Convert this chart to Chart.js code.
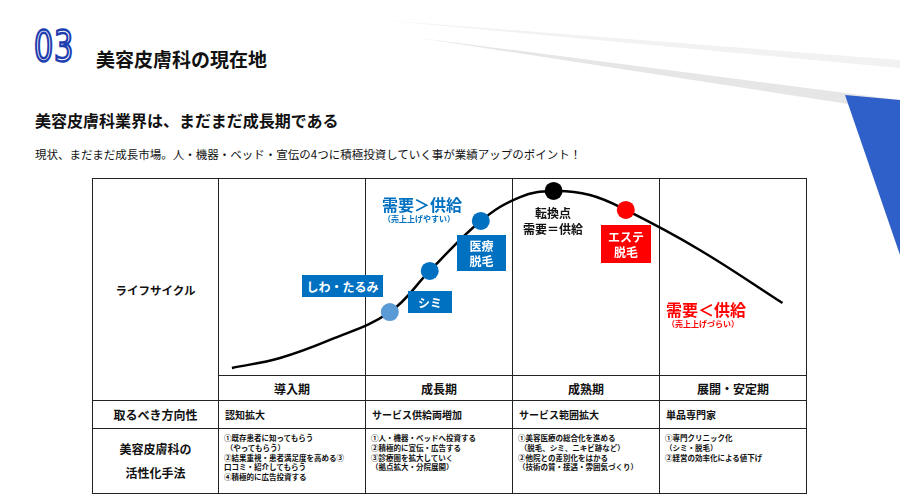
<!DOCTYPE html>
<html><head><meta charset="utf-8">
<script src="https://cdn.jsdelivr.net/npm/chart.js@4"></script>
<style>
body{margin:0;width:900px;height:504px;position:relative;overflow:hidden;background:#fff;font-family:"Noto Sans CJK JP",sans-serif;}
.a{position:absolute;white-space:nowrap;}
table{position:absolute;left:92px;top:178px;border-collapse:collapse;font-weight:bold;}
td{border:1.5px solid #222;padding:0;font-size:10px;color:#111;vertical-align:middle;}
td.h{text-align:center;font-size:12px;}
.box{position:absolute;color:#fff;font-weight:bold;text-align:center;display:flex;align-items:center;justify-content:center;line-height:1.25;}
.sm{font-size:7.5px;line-height:1.3;vertical-align:top;padding:4px 0 0 5px;}
</style></head><body>
<svg class="a" style="left:0;top:0" width="900" height="504">
<polygon points="420,38 900,100 900,112" fill="#e6e6e6"/>
<polygon points="380,20 900,60 900,68" fill="#f2f2f2"/>
<polygon points="845,95 900,100 900,255" fill="#2f5fc8"/>
</svg>
<div class="a" style="left:34px;top:22px;font-size:42px;color:#fff;-webkit-text-stroke:2.5px #1f3fb0;font-family:'Liberation Sans Narrow','DejaVu Sans Condensed',sans-serif;transform:scaleX(0.8);transform-origin:left;letter-spacing:1px">03</div>
<div class="a" style="left:96px;top:45px;font-size:19px;font-weight:bold;color:#111">美容皮膚科の現在地</div>
<div class="a" style="left:35px;top:108px;font-size:16px;font-weight:bold;color:#111">美容皮膚科業界は、まだまだ成長期である</div>
<div class="a" style="left:35px;top:146px;font-size:11.5px;color:#111">現状、まだまだ成長市場。人・機器・ベッド・宣伝の4つに積極投資していく事が業績アップのポイント！</div>
<table>
<tr style="height:197px"><td rowspan="2" class="h" style="width:125px;font-size:11.5px">ライフサイクル</td><td style="width:146px"></td><td style="width:146px"></td><td style="width:146px"></td><td style="width:146px"></td></tr>
<tr style="height:25px"><td class="h">導入期</td><td class="h">成長期</td><td class="h">成熟期</td><td class="h">展開・安定期</td></tr>
<tr style="height:28px"><td class="h">取るべき方向性</td><td style="padding-left:6px">認知拡大</td><td style="padding-left:6px">サービス供給両増加</td><td style="padding-left:6px">サービス範囲拡大</td><td style="padding-left:6px">単品専門家</td></tr>
<tr style="height:65px"><td class="h" style="line-height:2">美容皮膚科の<br>活性化手法</td>
<td class="sm">①既存患者に知ってもらう<br>&nbsp;（やってもらう）<br>②結果重視・患者満足度を高める③<br>口コミ・紹介してもらう<br>④積極的に広告投資する</td>
<td class="sm">①人・機器・ベッドへ投資する<br>②積極的に宣伝・広告する<br>③診療圏を拡大していく<br>（拠点拡大・分院展開）</td>
<td class="sm">①美容医療の総合化を進める<br>&nbsp;（脱毛、シミ、ニキビ跡など）<br>②他院との差別化をはかる<br>（技術の質・接遇・雰囲気づくり）</td>
<td class="sm">①専門クリニック化<br>（シミ・脱毛）<br>②経営の効率化による値下げ</td></tr>
</table>
<div class="a" style="left:219px;top:179px;width:587px;height:196px"><canvas id="c"></canvas></div>
<div class="a" style="left:382px;top:192px;font-size:16px;font-weight:bold;color:#0070c0">需要＞供給</div>
<div class="a" style="left:383px;top:213px;font-size:8px;font-weight:bold;color:#0070c0">（売上上げやすい）</div>
<div class="box" style="left:302px;top:275px;width:81px;height:22px;background:#0070c0;font-size:12px">しわ・たるみ</div>
<div class="box" style="left:408px;top:291px;width:44px;height:22px;background:#0070c0;font-size:12px">シミ</div>
<div class="box" style="left:457px;top:235px;width:49px;height:36px;background:#0070c0;font-size:12px">医療<br>脱毛</div>
<div class="a" style="left:513px;top:205px;width:80px;text-align:center;font-size:12px;font-weight:bold;color:#111;line-height:1.3">転換点<br>需要＝供給</div>
<div class="box" style="left:601px;top:225px;width:50px;height:38px;background:#f00;font-size:12px">エステ<br>脱毛</div>
<div class="a" style="left:666px;top:297px;font-size:16px;font-weight:bold;color:#f00">需要＜供給</div>
<div class="a" style="left:667px;top:318px;font-size:8px;font-weight:bold;color:#f00">（売上上げづらい）</div>
<script>
const curveX=[2.2,10.4,18.9,29.1,35.9,44.6,51.3,57.0,63.2,69.3,81.9,96.0];
const curveY=[3.6,8.7,17.9,32.1,53.1,78.6,90.8,93.9,91.8,84.2,63.8,36.7];
const dotX=[29.1,35.9,44.6,57.0,69.3];
const dotY=[32.1,53.1,78.6,93.9,84.2];
const dotColors=['#5b9bd5','#0070c0','#0070c0','#000000','#ff0000'];
new Chart(document.getElementById('c'),{type:'scatter',data:{datasets:[
{data:dotX.map((x,i)=>({x,y:dotY[i]})),pointRadius:9,pointBackgroundColor:dotColors,pointBorderWidth:0,clip:false},
{data:curveX.map((x,i)=>({x,y:curveY[i]})),showLine:true,borderColor:'#000',borderWidth:2.5,pointRadius:0,tension:0.4,clip:false}
]},options:{animation:false,responsive:true,maintainAspectRatio:false,layout:{padding:0,autoPadding:false},
plugins:{legend:{display:false},tooltip:{enabled:false}},
scales:{x:{type:'linear',min:0,max:100,display:false},y:{min:0,max:100,display:false}}}});
</script>
</body></html>
